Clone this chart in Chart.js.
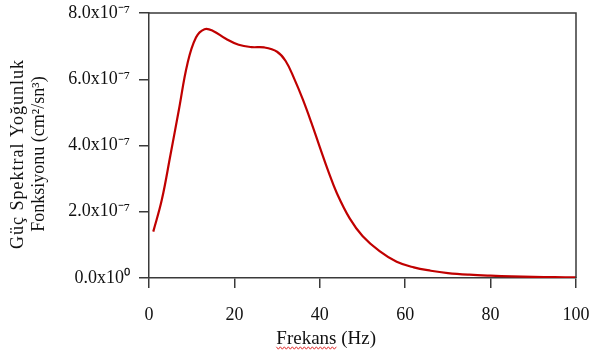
<!DOCTYPE html>
<html>
<head>
<meta charset="utf-8">
<script src="https://cdn.jsdelivr.net/npm/chart.js@4/dist/chart.umd.min.js"></script>
<style>
    html, body { margin: 0; padding: 0; background: #fff; }
    #wrap { width: 591px; height: 356px; }
</style>
</head>
<body>
<div id="wrap"><canvas id="psdChart"></canvas></div>
<script>
// Frequency (Hz) and PSD values (x1e-7 cm²/sn³)
const frequencies = [1, 3, 5, 7, 9, 11, 13, 15, 18, 21, 24, 27, 30, 32, 34, 36, 38, 40, 42, 44, 47, 50, 54, 58, 62, 66, 70, 75, 80, 85, 90, 95, 100];
const psdValues = [1.40, 2.36, 3.70, 5.08, 6.47, 7.26, 7.51, 7.46, 7.22, 7.04, 6.97, 6.96, 6.83, 6.55, 6.02, 5.40, 4.70, 3.95, 3.22, 2.56, 1.80, 1.27, 0.81, 0.49, 0.32, 0.22, 0.15, 0.10, 0.07, 0.05, 0.035, 0.025, 0.02];
const yTickLabels = ['0.0x10⁰', '2.0x10⁻⁷', '4.0x10⁻⁷', '6.0x10⁻⁷', '8.0x10⁻⁷'];
const yTitle = ['Güç Spektral Yoğunluk', 'Fonksiyonu (cm²/sn³)'];
const xTitle = 'Frekans (Hz)';

const axisColor = '#3a3a3a';
const serif = 'Liberation Serif, Times New Roman, serif';

const points = frequencies.map((f, i) => ({ x: f, y: psdValues[i] * 1e-7 }));

// draws the top/right frame and the axis titles
const framePlugin = {
    id: 'frame',
    afterDraw(chart) {
        const { ctx, chartArea: a, scales } = chart;
        ctx.save();
        ctx.strokeStyle = axisColor;
        ctx.lineWidth = 1.5;
        ctx.beginPath();
        ctx.moveTo(a.left, a.top);
        ctx.lineTo(a.right, a.top);
        ctx.lineTo(a.right, a.bottom);
        ctx.stroke();

        ctx.fillStyle = '#111';
        ctx.textAlign = 'center';
        ctx.textBaseline = 'middle';
        ctx.font = '19px ' + serif;
        const tx = scales.x.getPixelForValue(41.5);
        ctx.fillText(xTitle, tx, 339);

        // spell-check squiggle under "Frekans"
        const w = ctx.measureText(xTitle).width;
        const x0 = tx - w / 2, x1 = x0 + ctx.measureText('Frekans').width;
        ctx.strokeStyle = '#e03030';
        ctx.lineWidth = 1;
        ctx.beginPath();
        for (let x = x0, k = 0; x <= x1; x += 2, k++) {
            const y = 348 + (k % 2 ? 1.2 : -1.2);
            if (k === 0) ctx.moveTo(x, y); else ctx.lineTo(x, y);
        }
        ctx.stroke();

        ctx.font = '18px ' + serif;
        ctx.save();
        ctx.translate(18, 154);
        ctx.rotate(-Math.PI / 2);
        ctx.letterSpacing = '1px';
        ctx.fillText(yTitle[0], 0, 0);
        ctx.restore();
        ctx.save();
        ctx.translate(39, 154);
        ctx.rotate(-Math.PI / 2);
        ctx.fillText(yTitle[1], 0, 0);
        ctx.restore();
        ctx.restore();
    }
};

new Chart(document.getElementById('psdChart'), {
    type: 'line',
    data: {
        datasets: [{
            data: points,
            borderColor: '#c00000',
            borderWidth: 2.2,
            pointRadius: 0,
            tension: 0.4,
            fill: false
        }]
    },
    options: {
        responsive: true,
        maintainAspectRatio: false,
        animation: false,
        layout: { padding: { left: 0, right: 15, top: 13, bottom: 0 } },
        plugins: { legend: { display: false }, tooltip: { enabled: false } },
        scales: {
            x: {
                type: 'linear',
                min: 0,
                max: 100,
                afterFit: s => { s.height = 78; s.paddingLeft = 0; s.paddingRight = 0; },
                border: { color: axisColor, width: 1.5 },
                grid: { drawOnChartArea: false, tickLength: 10, color: axisColor, lineWidth: 1.5 },
                ticks: {
                    stepSize: 20,
                    padding: 16,
                    maxRotation: 0,
                    color: '#111',
                    font: { family: serif, size: 18 }
                }
            },
            y: {
                min: 0,
                max: 8e-7,
                afterFit: s => { s.width = 149; s.paddingTop = 0; s.paddingBottom = 0; },
                border: { color: axisColor, width: 1.5 },
                grid: { drawOnChartArea: false, tickLength: 10, color: axisColor, lineWidth: 1.5 },
                ticks: {
                    stepSize: 2e-7,
                    padding: 9,
                    color: '#111',
                    font: { family: serif, size: 18 },
                    callback: (v, i) => yTickLabels[i]
                }
            }
        }
    },
    plugins: [framePlugin]
});
</script>
</body>
</html>
